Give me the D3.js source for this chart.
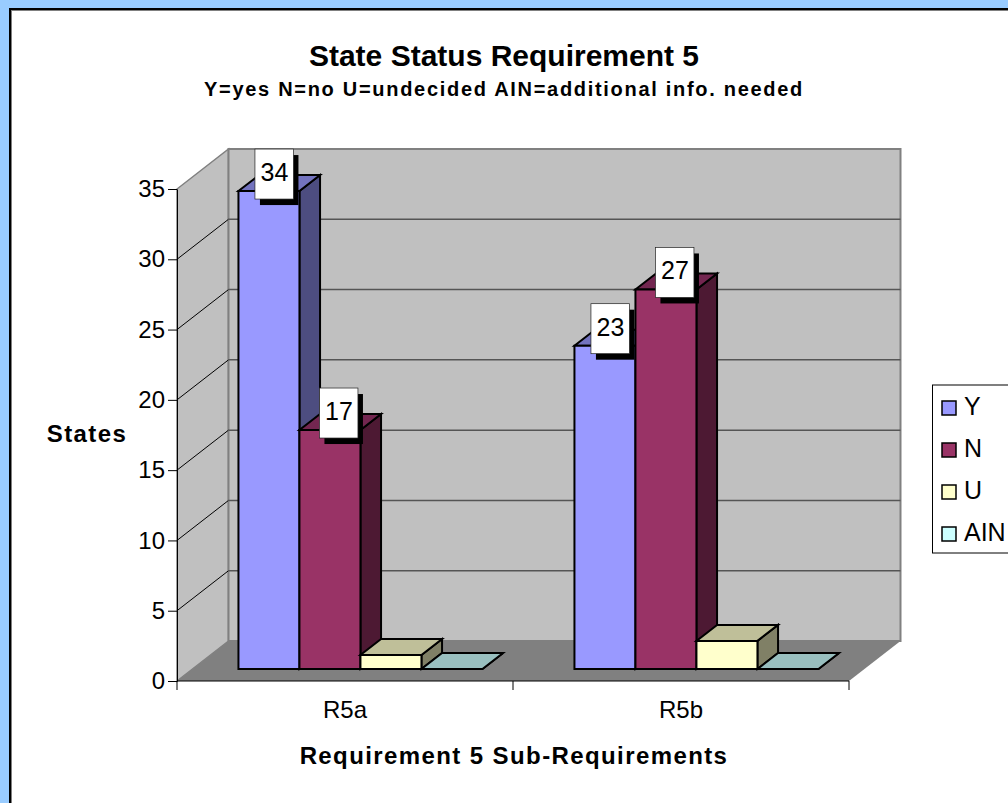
<!DOCTYPE html>
<html>
<head>
<meta charset="utf-8">
<script src="https://cdn.jsdelivr.net/npm/d3@7"></script>
<style>
  html, body { margin: 0; padding: 0; background: #99ccff; overflow: hidden; }
  text { font-family: "Liberation Sans", Arial, sans-serif; fill: #000; }
</style>
</head>
<body>
<div id="chart"></div>
<script>
// chart values
var categories = ["R5a", "R5b"];
var seriesNames = ["Y", "N", "U", "AIN"];
var valuesY = [34, 23];
var valuesN = [17, 27];
var valuesU = [1, 2];
var valuesAIN = [0, 0];
var yTicks = [0, 5, 10, 15, 20, 25, 30, 35];

var seriesValues = [valuesY, valuesN, valuesU, valuesAIN];
var frontColors = ["#9999ff", "#993366", "#ffffcc", "#ccffff"];
var topColors = ["#7373bf", "#732650", "#bfbf99", "#99bfbf"];
var sideColors = ["#4d4d80", "#4d1933", "#808066", "#668080"];

var svgWidth = 1008;
var svgHeight = 803;

var svg = d3.select("#chart").append("svg")
    .attr("width", svgWidth)
    .attr("height", svgHeight)
    .style("display", "block");

// white panel with a dark edge top and left
svg.append("rect").attr("x", 9).attr("y", 8).attr("width", 999).attr("height", 795).attr("fill", "#000");
svg.append("rect").attr("x", 11).attr("y", 10).attr("width", 997).attr("height", 793).attr("fill", "#808080");
svg.append("rect").attr("x", 12).attr("y", 11).attr("width", 996).attr("height", 792).attr("fill", "#fff");

// scales for the front plane of the 3d box
var x = d3.scaleBand().domain(categories).range([177, 849]);
var y = d3.scaleLinear().domain([0, 35]).range([681, 189]);
var inner = d3.scaleBand().domain(seriesNames).range([46, 336 - 46]);

// how far the box runs backwards
var depthX = 51.5;
var depthY = 40;
var barNear = 0.3;
var barFar = 0.7;

function project(px, py, depth) {
    return [px + depthX * depth, py - depthY * depth];
}

function poly(points) {
    return points.map(function(p) { return p.join(","); }).join(" ");
}

var chart = svg.append("g");
var x0 = x.range()[0], x1 = x.range()[1], yBase = y(0), yTop = y(35);

// side wall, back wall, floor
chart.append("polygon")
    .attr("points", poly([[x0, yBase], project(x0, yBase, 1), project(x0, yTop, 1), [x0, yTop]]))
    .attr("fill", "#c0c0c0").attr("stroke", "#808080").attr("stroke-width", 1.5);
chart.append("polygon")
    .attr("points", poly([project(x0, yBase, 1), project(x1, yBase, 1), project(x1, yTop, 1), project(x0, yTop, 1)]))
    .attr("fill", "#c0c0c0").attr("stroke", "#808080").attr("stroke-width", 2);
chart.append("polygon")
    .attr("points", poly([[x0, yBase], [x1, yBase], project(x1, yBase, 1), project(x0, yBase, 1)]))
    .attr("fill", "#808080");

// gridlines on both walls
yTicks.slice(1, -1).forEach(function(t) {
    var a = [x0, y(t)], b = project(x0, y(t), 1), c = project(x1, y(t), 1);
    chart.append("line").attr("x1", a[0]).attr("y1", a[1]).attr("x2", b[0]).attr("y2", b[1])
        .attr("stroke", "#000").attr("stroke-width", 1);
    chart.append("line").attr("x1", b[0]).attr("y1", b[1]).attr("x2", c[0]).attr("y2", c[1])
        .attr("stroke", "#555").attr("stroke-width", 1.5);
});

// axes
var leftAxis = d3.axisLeft(y).tickValues(yTicks).tickSize(9).tickPadding(3).tickSizeOuter(0);
var bottomAxis = d3.axisBottom(x).tickSize(0).tickPadding(20);

var yAxis = chart.append("g").attr("transform", "translate(" + x0 + ",0)").call(leftAxis);
yAxis.selectAll("text").style("font-size", "24px").style("font-family", '"Liberation Sans", Arial, sans-serif');
yAxis.selectAll("line,path").attr("stroke", "#000");

var xAxis = chart.append("g").attr("transform", "translate(0," + yBase + ")").call(bottomAxis);
xAxis.selectAll("text").style("font-size", "24px").style("font-family", '"Liberation Sans", Arial, sans-serif');
xAxis.select("path").attr("stroke", "#000").attr("d", "M" + x0 + ",0H" + x1);

// category boundary ticks
d3.range(categories.length + 1).forEach(function(i) {
    var tx = x0 + i * x.bandwidth();
    xAxis.append("line").attr("x1", tx).attr("x2", tx).attr("y1", 0).attr("y2", 9).attr("stroke", "#000");
});

// bars, left to right so each front face covers the side of the bar before it
var labels = [];
categories.forEach(function(cat, c) {
    seriesNames.forEach(function(name, s) {
        var v = seriesValues[s][c];
        var left = x(cat) + inner(name);
        var right = left + inner.bandwidth();

        var fl = project(left, y(0), barNear);
        var fr = project(right, y(0), barNear);
        var tl = project(left, y(v), barNear);
        var tr = project(right, y(v), barNear);
        var brBase = project(right, y(0), barFar);
        var brTop = project(right, y(v), barFar);
        var blTop = project(left, y(v), barFar);

        var bar = chart.append("g")
            .attr("stroke", "#000").attr("stroke-width", 2).attr("stroke-linejoin", "miter");
        bar.append("polygon").attr("points", poly([fr, brBase, brTop, tr])).attr("fill", sideColors[s]);
        bar.append("polygon").attr("points", poly([tl, tr, brTop, blTop])).attr("fill", topColors[s]);
        if (v > 0) {
            bar.append("polygon").attr("points", poly([fl, fr, tr, tl])).attr("fill", frontColors[s]);
            if (s < 2) labels.push({ v: v, s: s, cx: (tl[0] + tr[0]) / 2, top: tl[1] });
        }
    });
});

// value labels with their black shadow
labels.forEach(function(d) {
    var bx = d.cx + (d.s === 0 ? 5 : 8.5) - 19;
    var by = d.top - 42;
    var g = chart.append("g");
    g.append("rect").attr("x", bx + 5).attr("y", by + 6).attr("width", 38.5).attr("height", 50).attr("fill", "#000");
    g.append("rect").attr("x", bx).attr("y", by).attr("width", 38.5).attr("height", 50)
        .attr("fill", "#fff").attr("stroke", "#222").attr("stroke-width", 0.7);
    g.append("text").attr("x", bx + 19.5).attr("y", by + 32).attr("text-anchor", "middle")
        .style("font-size", "25px").text(d.v);
});

// titles
svg.append("text").attr("x", 504).attr("y", 66).attr("text-anchor", "middle")
    .style("font-size", "30px").style("font-weight", "bold")
    .text("State Status Requirement 5");
svg.append("text").attr("x", 504).attr("y", 96).attr("text-anchor", "middle")
    .style("font-size", "20px").style("font-weight", "bold").style("letter-spacing", "1.7px")
    .text("Y=yes N=no U=undecided AIN=additional info. needed");
svg.append("text").attr("x", 87).attr("y", 442).attr("text-anchor", "middle")
    .style("font-size", "24px").style("font-weight", "bold").style("letter-spacing", "1.4px").text("States");
svg.append("text").attr("x", 514).attr("y", 764).attr("text-anchor", "middle")
    .style("font-size", "24px").style("font-weight", "bold").style("letter-spacing", "1.4px")
    .text("Requirement 5 Sub-Requirements");

// legend
var legend = svg.append("g");
legend.append("rect").attr("x", 932.5).attr("y", 385).attr("width", 80).attr("height", 168)
    .attr("fill", "#fff").attr("stroke", "#000").attr("stroke-width", 1);
var legendY = d3.scalePoint().domain(seriesNames).range([408, 534]);
seriesNames.forEach(function(name, i) {
    var row = legend.append("g").attr("transform", "translate(0," + legendY(name) + ")");
    row.append("rect").attr("x", 942).attr("y", -7).attr("width", 14).attr("height", 14)
        .attr("fill", frontColors[i]).attr("stroke", "#000").attr("stroke-width", 1.5);
    row.append("text").attr("x", 964).attr("y", 7).style("font-size", "25px").text(name);
});
</script>
</body>
</html>
